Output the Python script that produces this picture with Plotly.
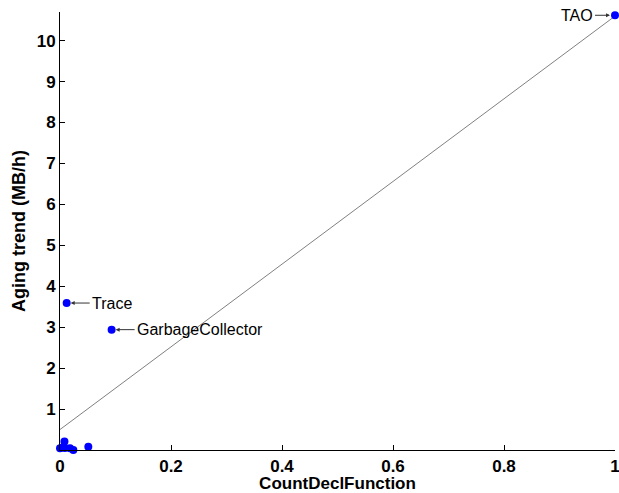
import plotly.graph_objects as go

# Data
x_vals = [1.0, 0.012, 0.093, 0.008, 0.0, 0.005, 0.009, 0.018, 0.024, 0.051]
y_vals = [10.62, 3.59, 2.94, 0.21, 0.04, 0.06, 0.05, 0.04, 0.0, 0.08]
labels = ["TAO", "Trace", "GarbageCollector"]
fit_x = [0.0, 1.0]
fit_y = [0.5, 10.6]
x_ticks = [0, 0.2, 0.4, 0.6, 0.8, 1]
x_ticktext = ["0", "0.2", "0.4", "0.6", "0.8", "1"]
y_ticks = [1, 2, 3, 4, 5, 6, 7, 8, 9, 10]

FONT = "Liberation Sans, Arial, sans-serif"

fig = go.Figure()
fig.add_trace(go.Scatter(x=fit_x, y=fit_y, mode="lines",
                         line=dict(color="#808080", width=1), hoverinfo="skip"))
fig.add_trace(go.Scatter(x=x_vals, y=y_vals, mode="markers",
                         marker=dict(color="#0000FF", size=8), cliponaxis=False))

font_ann = dict(family=FONT, size=16, color="black")
for i in [1, 2]:
    fig.add_annotation(x=x_vals[i], y=y_vals[i], text=labels[i], showarrow=True,
                       ax=23, ay=0, xanchor="left", arrowhead=2, arrowsize=0.8,
                       arrowwidth=1, arrowcolor="#333333", standoff=4, font=font_ann)
fig.add_annotation(x=x_vals[0], y=y_vals[0], text=labels[0], showarrow=True,
                   ax=-20, ay=0, xanchor="right", arrowhead=2, arrowsize=0.8,
                   arrowwidth=1, arrowcolor="#333333", standoff=5, font=font_ann)

fig.update_layout(
    width=619, height=493,
    margin=dict(l=60, r=4, t=12, b=43, autoexpand=False),
    paper_bgcolor="white", plot_bgcolor="white",
    showlegend=False,
    font=dict(family=FONT, color="black"),
    xaxis=dict(range=[0, 1], tickvals=x_ticks, ticktext=x_ticktext, automargin=False,
               showgrid=False, zeroline=False, showline=True, linecolor="black",
               linewidth=1, ticks="inside", ticklen=5, tickcolor="black",
               ticklabelstandoff=1, ticklabeloverflow="allow",
               tickfont=dict(size=17, family=FONT, weight="bold"),
               title=dict(text="CountDeclFunction", font=dict(size=17, weight="bold"), standoff=1)),
    yaxis=dict(range=[0, 10.7], tickvals=y_ticks, automargin=False,
               showgrid=False, zeroline=False, showline=True, linecolor="black",
               linewidth=1, ticks="inside", ticklen=5, tickcolor="black",
               tickfont=dict(size=17, family=FONT, weight="bold"),
               title=dict(text="Aging trend (MB/h)", font=dict(size=18, weight="bold"), standoff=6)),
)

fig.write_html("out.html", config={"displayModeBar": False},
               post_script="document.body.style.margin='0';document.body.style.overflow='hidden';")
